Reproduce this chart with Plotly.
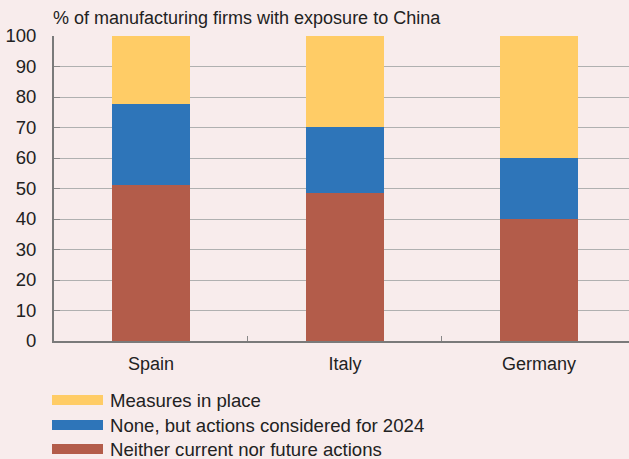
import plotly.graph_objects as go

countries = ["Spain", "Italy", "Germany"]
neither = [51.2, 48.6, 40.1]
considered = [26.4, 21.5, 19.8]
measures = [22.4, 29.9, 40.1]
series_names = ["Neither current nor future actions", "None, but actions considered for 2024", "Measures in place"]
colors = ["#B35C4A", "#2E75B9", "#FFCC66"]
y_ticks = [0, 10, 20, 30, 40, 50, 60, 70, 80, 90, 100]

W, H = 629, 459
L, R, T, B = 54, 0, 36, 118
BG = "#F8ECEC"
font = "Liberation Sans, Arial, sans-serif"
FS = 18

fig = go.Figure()
for name, vals, c in zip(series_names, [neither, considered, measures], colors):
    fig.add_trace(go.Bar(x=countries, y=vals, name=name, marker=dict(color=c, line=dict(width=0)),
                         width=0.4, showlegend=False))

ph = H - T - B
def py(pix):
    return (H - B - pix) / ph
def px(pix):
    return (pix - L) / (W - L - R)

annotations = [dict(text="% of manufacturing firms with exposure to China", xref="paper", yref="paper",
                    x=px(51), y=py(18), xanchor="left", yanchor="middle", showarrow=False,
                    font=dict(size=FS, color="#222222", family=font))]
shapes = []
rows = [400, 425, 449]
for i, (name, c) in enumerate(zip(series_names[::-1], colors[::-1])):
    yc = rows[i]
    shapes.append(dict(type="rect", xref="paper", yref="paper", x0=px(52), x1=px(103),
                       y0=py(yc - 5), y1=py(yc + 5), fillcolor=c, line=dict(width=0), layer="above"))
    annotations.append(dict(text=name, xref="paper", yref="paper", x=px(108), y=py(yc),
                            xanchor="left", yanchor="middle", showarrow=False,
                            font=dict(size=18.6, color="#222222", family=font)))

fig.update_layout(
    barmode="stack", width=W, height=H, margin=dict(l=L, r=R, t=T, b=B, pad=0),
    paper_bgcolor=BG, plot_bgcolor=BG, bargap=0.6,
    font=dict(family=font, size=FS, color="#222222"),
    annotations=annotations, shapes=shapes,
    xaxis=dict(range=[-0.5, 2.464], tickson="boundaries", ticks="inside", ticklen=5, tickcolor="#888888",
               tickwidth=1, showline=True, linecolor="#7a7a7a", linewidth=2, showgrid=False,
               ticklabelstandoff=5, tickfont=dict(size=FS, color="#222222")),
    yaxis=dict(range=[0, 100], tickvals=y_ticks, ticks="inside", ticklen=6, tickcolor="#888888",
               showline=True, linecolor="#7a7a7a", linewidth=2, showgrid=True, gridcolor="#B0B0B0",
               gridwidth=1, zeroline=False, ticklabelstandoff=12, tickfont=dict(size=18.5, color="#222222")),
)
fig.write_html("out.html")
